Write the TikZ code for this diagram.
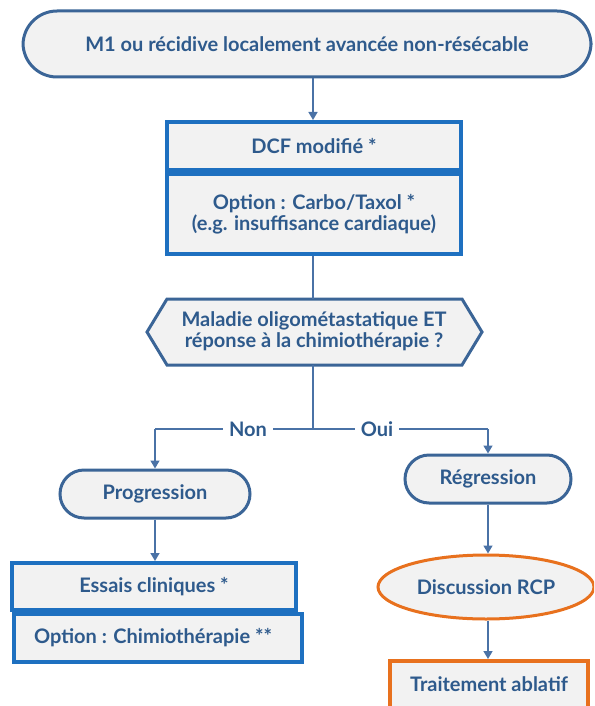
\documentclass[tikz,border=0pt]{standalone}
\usepackage{fontspec}
\setmainfont{Lato}
\usetikzlibrary{arrows.meta,shapes.geometric}
\definecolor{txt}{HTML}{2E5A8C}
\definecolor{edge}{HTML}{3B6597}
\definecolor{boxblue}{HTML}{1E70C0}
\definecolor{orng}{HTML}{E8711E}
\definecolor{bg}{HTML}{F2F2F2}
\definecolor{wire}{HTML}{4A72A6}
\newcommand\labelfont[1]{\bfseries\fontsize{20}{#1}\selectfont\lineskiplimit=-40pt\relax}
\tikzset{
  x=1pt, y=-1pt,
  base/.style={fill=bg, text=txt, font=\labelfont{20.5}, align=center, inner sep=0pt},
  stadium/.style={base, draw=edge, line width=3pt, rounded corners=#1},
  boxed/.style={base, draw=boxblue, line width=4pt, rectangle},
  orangebox/.style={base, draw=orng, line width=3.5pt, rectangle},
  oval/.style={base, draw=orng, line width=3pt, ellipse},
  link/.style={draw=wire, line width=1.6pt},
  arr/.style={link, -{Triangle[length=8pt,width=9pt]}},
  tag/.style={fill=white, text=txt, font=\labelfont{20}, inner xsep=6pt, inner ysep=2pt}
}
\begin{document}
\begin{tikzpicture}
\useasboundingbox (0,0) rectangle (594,706);
\clip (0,0) rectangle (594,706);

% start
\node[stadium=34pt, minimum width=568pt, minimum height=66pt] (start) at (307,44)
  {M1 ou récidive localement avancée non-résécable};

% first-line treatment
\node[boxed, minimum width=294pt, minimum height=48pt] (dcf) at (314,146) {DCF modifié *};
\node[boxed, minimum width=294pt, minimum height=80pt, anchor=north] (carbo) at (dcf.south)
  {Option : Carbo/Taxol *\\(e.g. insuffisance cardiaque)};

% decision
\coordinate (hL) at (147,332);
\coordinate (hTL) at (167,299);
\coordinate (hTR) at (462,299);
\coordinate (hR) at (482,332);
\coordinate (hBR) at (462,365);
\coordinate (hBL) at (167,365);
\draw[fill=bg, draw=edge, line width=3pt, line join=miter]
  (hL) -- (hTL) -- (hTR) -- (hR) -- (hBR) -- (hBL) -- cycle;
\node[base, fill=none] (dec) at (314,331)
  {Maladie oligométastatique ET\\réponse à la chimiothérapie ?};
\coordinate (decT) at (314,299);
\coordinate (decB) at (314,365);

% branches
\node[stadium=24pt, minimum width=190pt, minimum height=48pt] (prog) at (155,494) {Progression};
\node[stadium=24pt, minimum width=166pt, minimum height=48pt] (regr) at (488,479) {Régression};

\node[boxed, minimum width=284pt, minimum height=47pt] (essais) at (154,586.5) {Essais cliniques *};
\node[boxed, minimum width=288pt, minimum height=48pt, anchor=north west] (chimio) at (12,612)
  {\hspace*{-10pt}Option : Chimiothérapie **};

\node[oval, minimum width=216pt, minimum height=64pt] (rcp) at (486,587) {Discussion RCP};
\node[orangebox, minimum width=198pt, minimum height=70pt, anchor=north] (abl) at (489,659)
  {\raisebox{23pt}{Traitement ablatif}};

% connectors
\draw[arr] (start.south -| 313,0) -- (dcf.north -| 313,0);
\draw[link] (carbo.south -| 313,0) -- (decT -| 313,0);
\coordinate (junc) at (313,429);
\coordinate (jL) at (155,429);
\coordinate (jR) at (488,429);
\draw[link] (decB -| 313,0) -- (junc);
\draw[link] (jL) -- (junc) -- (jR);
\node[tag] (non) at (248,429) {Non};
\node[tag] (oui) at (377,429) {Oui};
\draw[arr] (jL) -- (prog.north);
\draw[arr] (jR) -- (regr.north);
\draw[arr] (prog.south) -- (essais.north -| prog.south);
\draw[arr] (regr.south) -- (rcp.north -| regr.south);
\draw[arr] (rcp.south -| regr.south) -- (abl.north -| regr.south);
\end{tikzpicture}
\end{document}
